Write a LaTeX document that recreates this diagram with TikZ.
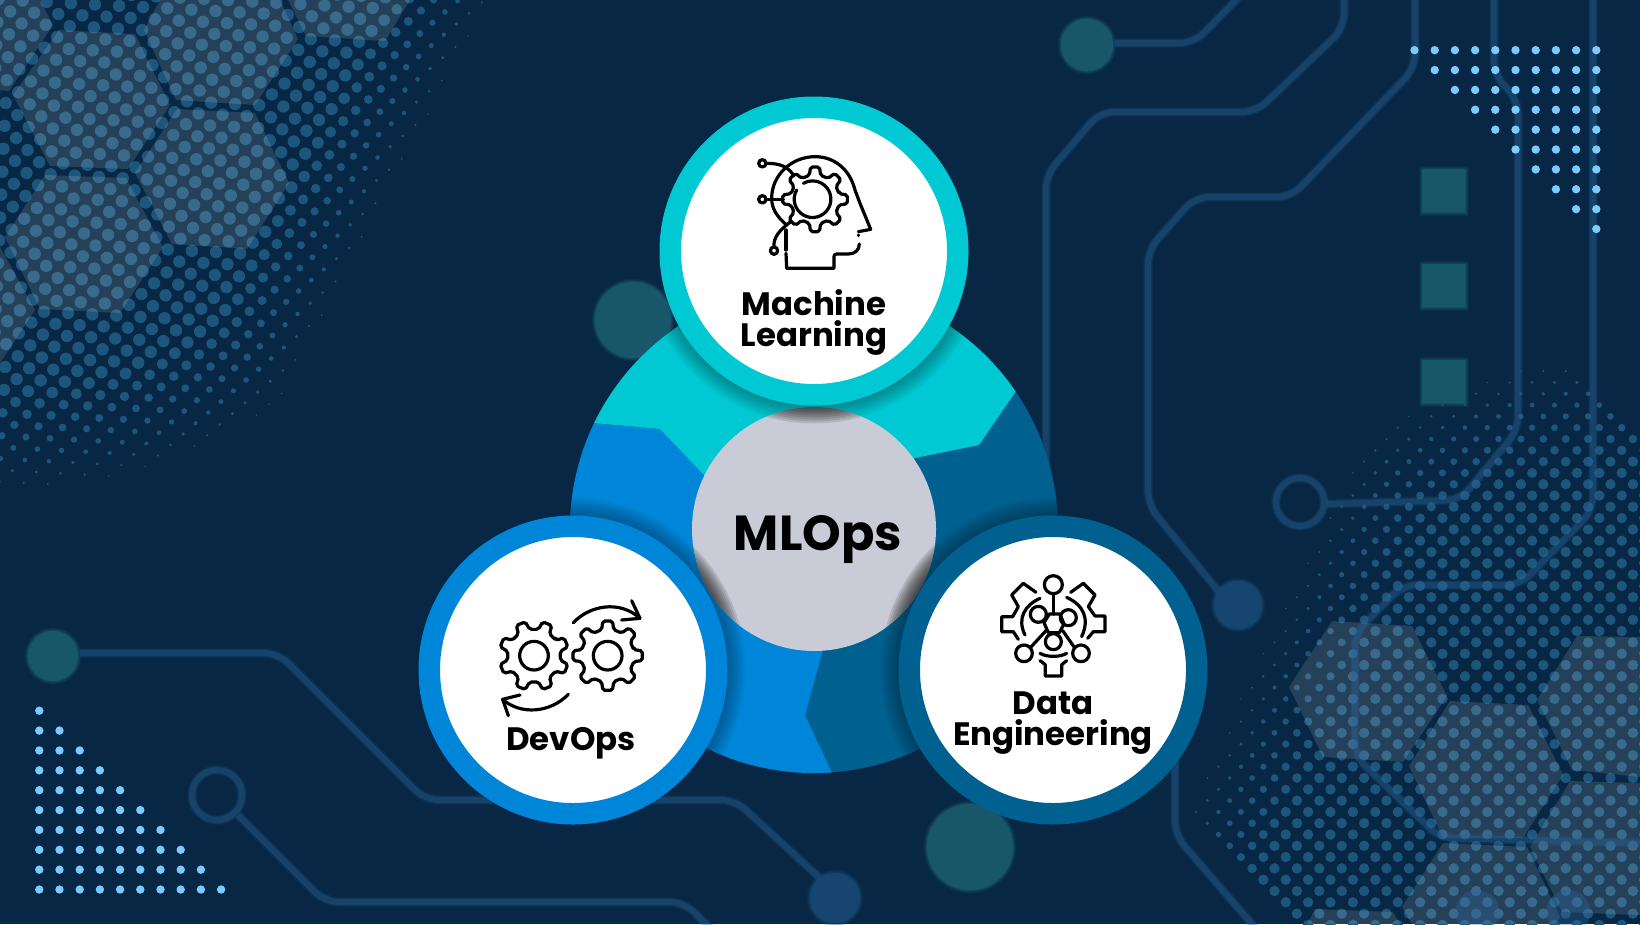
\documentclass[tikz,border=0pt]{standalone}
\usepackage{fontspec}
\setmainfont{Poppins}
\definecolor{fondnuit}{HTML}{072744}
\definecolor{cyanml}{HTML}{00C9D4}
\definecolor{bleudev}{HTML}{0086D9}
\definecolor{bleudata}{HTML}{00608F}
\definecolor{griscentre}{HTML}{C9CCD6}
\definecolor{piste}{HTML}{2E669A}
\definecolor{tramedot}{HTML}{1D567C}
\definecolor{pointclair}{HTML}{7CCBFF}
\definecolor{tacheteal}{HTML}{18566A}
\definecolor{tachebleu}{HTML}{16466F}
\tikzset{
    ringnode/.style={circle, draw=#1, line width=21.5pt, fill=white, minimum size=287.5pt, inner sep=0pt, outer sep=0pt},
    titre/.style={font=\fontsize{32.4}{31}\selectfont\bfseries, align=center, inner sep=0pt, text=black},
    iconline/.style={draw=black, line width=3.2pt, line cap=round, line join=round},
    hexa/.style={fill=white, fill opacity=0.12},
    halfdot/.style={fill=tramedot},
    bluedot/.style={fill=pointclair}
}
% piste floue
\newcommand{\softtrace}[1]{
    \foreach \w/\o in {10/0.1,8/0.15,6/0.27}{
        \draw[piste, line width=\w pt, opacity=\o, rounded corners=14pt] #1;
    }
}
% tache floue : couleur, forme
\newcommand{\softspot}[2]{
    \foreach \w/\o in {7/0.18,5/0.25,3/0.35,1/0.5}{
        \draw[#1, line width=\w pt, opacity=\o] #2;
    }
    \fill[#1] #2;
}
% roue dentee : centre, rayon ext, rayon int, rotation
\newcommand{\gearicon}[4]{
    \draw[iconline, rounded corners=2pt, shift={#1}, rotate=#4] (-13:#3)
        \foreach \a in {0,45,...,315}{ -- (\a-13:#3) -- (\a-8:#2) -- (\a+8:#2) -- (\a+13:#3) } -- cycle;
}
\begin{document}
\begin{tikzpicture}[x=1pt, y=-1pt]
    \useasboundingbox (0,0) rectangle (1640,924);
    \fill[fondnuit] (0,0) rectangle (1640,924);

    % Trame de points, en haut a gauche
    \foreach \j in {-3,...,42}{
        \foreach \i in {-22,...,20}{
            \pgfmathsetmacro{\px}{58.3+24.1*\i+11.5*\j}
            \pgfmathsetmacro{\py}{14+1.3*\i+12.1*\j}
            \pgfmathsetmacro{\tt}{max(veclen(\px,\py)/490,(0.887*\px+0.462*\py)/433)}
            \pgfmathparse{(\tt<1 && \px>-8 && \py>-8) ? 1 : 0}
            \ifdim\pgfmathresult pt=1pt
                \pgfmathsetmacro{\rr}{min(6.2,0.8+(1-\tt)*26)}
                \fill[halfdot] (\px,\py) circle (\rr);
            \fi
        }
    }
    % Trame de points, en bas a droite
    \foreach \j in {-38,...,14}{
        \foreach \i in {-6,...,30}{
            \pgfmathsetmacro{\px}{1285.7+22.4*\i+11.2*\j}
            \pgfmathsetmacro{\py}{766.7+11.3*\j}
            \pgfmathsetmacro{\tt}{max(veclen(\px-1640,\py-840)/485,(0.9*(1640-\px)+0.43*(840-\py))/420)}
            \pgfmathparse{(\tt<1 && \px<1650) ? 1 : 0}
            \ifdim\pgfmathresult pt=1pt
                \pgfmathsetmacro{\rr}{min(5.2,0.8+(1-\tt)*20)}
                \fill[halfdot] (\px,\py) circle (\rr);
            \fi
        }
    }

    % Hexagones
    \fill[hexa] (0,0) -- (40,0) -- (53,25) -- (9,91) -- (0,90) -- cycle;
    \fill[hexa] (59,30) -- (135,34) -- (170,105) -- (128,169) -- (50,166) -- (13,95) -- cycle;
    \fill[hexa] (160,0) -- (280,0) -- (298,39) -- (255,105) -- (176,100) -- (144,30) -- cycle;
    \fill[hexa] (288,0) -- (410,0) -- (385,41) -- (306,36) -- cycle;
    \fill[hexa] (177,109) -- (255,113) -- (289,183) -- (247,249) -- (172,244) -- (135,173) -- cycle;
    \fill[hexa] (45,175) -- (126,178) -- (163,247) -- (120,313) -- (40,309) -- (5,237) -- cycle;
    \fill[hexa] (0,247) -- (35,310) -- (0,363) -- cycle;
    \fill[hexa] (1332,621) -- (1412,626) -- (1447,696) -- (1403,762) -- (1323,757) -- (1289,687) -- cycle;
    \fill[hexa] (1450,701) -- (1528,705) -- (1563,775) -- (1523,838) -- (1443,838) -- (1409,766) -- cycle;
    \fill[hexa] (1577,636) -- (1640,637) -- (1640,777) -- (1572,770) -- (1537,700) -- cycle;
    \fill[hexa] (1570,781) -- (1640,783) -- (1640,915) -- (1562,912) -- (1530,847) -- cycle;
    \fill[hexa] (1443,843) -- (1527,847) -- (1560,917) -- (1555,924) -- (1412,924) -- (1402,907) -- cycle;
    \fill[hexa] (1315,909) -- (1393,912) -- (1400,924) -- (1307,924) -- cycle;

    % Pistes du circuit
    \softtrace{(1115,43) -- (1194,43) -- (1241,-5)}
    \softtrace{(1344,-5) -- (1344,28) -- (1256,112) -- (1100,112) -- (1046,175) -- (1046,480)}
    \softtrace{(1415,-5) -- (1415,68) -- (1291,197) -- (1195,197) -- (1148,250) -- (1148,505) -- (1220,593)}
    \softtrace{(1494,-5) -- (1494,75) -- (1518,100) -- (1518,430) -- (1460,500) -- (1327,504)}
    \softtrace{(1593,-5) -- (1593,510) -- (1520,585) -- (1403,585) -- (1355,633) -- (1355,756) -- (1440,838) -- (1645,843)}
    \softtrace{(1175,750) -- (1175,835) -- (1270,945)}
    \softtrace{(80,653) -- (278,653) -- (425,800) -- (735,800) -- (822,880)}
    \softtrace{(238,815) -- (325,902) -- (684,902) -- (712,930)}
    \foreach \w/\o in {10/0.1,8/0.15,6/0.27}{
        \draw[piste, line width=\w pt, opacity=\o] (1300,502) circle (24);
        \draw[piste, line width=\w pt, opacity=\o] (217,795) circle (25);
    }

    % Taches et carres
    \softspot{tacheteal}{(1087,45) circle (26)}
    \softspot{tacheteal}{(53,656) circle (25)}
    \softspot{tacheteal}{(633,320) circle (38)}
    \softspot{tacheteal}{(970,847) circle (43)}
    \softspot{tachebleu}{(1238,605) circle (24)}
    \softspot{tachebleu}{(835,898) circle (25)}
    \foreach \yy in {169,264,360}{
        \softspot{tacheteal}{(1422,\yy) rectangle (1465,{\yy+43})}
    }
    \fill[piste, opacity=0.35] (1477,912) circle (22);
    \fill[piste, opacity=0.35] (1568,912) circle (22);

    % Points clairs
    \foreach \j in {0,...,9}{
        \foreach \i in {0,...,\j}{
            \fill[bluedot] ({39.3+20.2*\i},{710.7+19.87*\j}) circle (4.2);
            \fill[bluedot] ({1596.3-20.2*\i},{229-19.87*\j}) circle (4.2);
        }
    }

    % Disque decoupe
    \begin{scope}
        \clip (814,529) circle (244);
        \fill[bleudata] (560,280) rectangle (1070,780);
        \fill[bleudev] (500,415) -- (593,423) -- (660,429) -- (704,475) -- (814,529) -- (823,650) -- (805,715) -- (840,790) -- (500,790) -- cycle;
        \fill[cyanml] (500,415) -- (593,423) -- (660,429) -- (704,475) -- (814,529) -- (915,458) -- (979,445) -- (1016,391) -- (1075,305) -- (1075,200) -- (500,200) -- cycle;
        % ombres des anneaux
        \foreach \s in {2,4,...,18}{
            \fill[black, opacity=0.035] (814,251) circle ({154.5+\s});
            \fill[black, opacity=0.035] (573,670) circle ({154.5+\s});
            \fill[black, opacity=0.035] (1053,670) circle ({154.5+\s});
        }
    \end{scope}
    \node[circle, fill=griscentre, minimum size=244pt, inner sep=0pt, outer sep=0pt] (centre) at (814,529) {};
    \begin{scope}
        \clip (814,529) circle (122);
        \foreach \s in {2,4,...,18}{
            \fill[black, opacity=0.11] (814,251) circle ({154.5+\s});
            \fill[black, opacity=0.11] (573,670) circle ({154.5+\s});
            \fill[black, opacity=0.11] (1053,670) circle ({154.5+\s});
        }
    \end{scope}

    % Anneaux
    \node[ringnode=cyanml] (mlring) at (814,251) {};
    \node[ringnode=bleudev] (devring) at (573,670) {};
    \node[ringnode=bleudata] (dataring) at (1053,670) {};

    % Textes
    \node[font=\fontsize{49.2}{49}\selectfont\bfseries, inner sep=0pt, anchor=base] (mlops) at (818,550) {MLOps};
    \node[titre] (mltxt) at (814,322) {Machine\\Learning};
    \node[titre, anchor=base] (devtxt) at (571,750) {DevOps};
    \node[titre] (datatxt) at (1053,723.5) {Data\\Engineering};

    % Icone tete
    \begin{scope}[shift={(640,90)}, scale=1/3]
        \gearicon{(525,328)}{98}{74}{0}
        \draw[iconline] (470,300) arc (210:-120:55);
        \draw[iconline] (440,405) .. controls (410,380) and (395,355) .. (395,325) .. controls (395,255) and (455,200) .. (525,200) .. controls (585,200) and (630,240) .. (645,300) -- (660,340) -- (692,418) -- (655,425);
        \draw[iconline] (655,435) -- (655,437);
        \draw[iconline] (658,462) .. controls (658,480) and (645,492) .. (625,492) -- (590,492) .. controls (584,492) and (582,496) .. (582,500) -- (582,535) -- (440,535) -- (438,490);
        \draw[iconline] (438,480) -- (438,420);
        \draw[iconline] (367,220) circle (11);
        \draw[iconline] (380,220) .. controls (420,220) and (445,230) .. (462,258);
        \draw[iconline] (367,328) circle (11);
        \draw[iconline] (380,328) -- (430,328);
        \draw[iconline] (402,482) circle (11);
        \draw[iconline] (402,470) .. controls (400,440) and (420,420) .. (452,395);
    \end{scope}

    % Icone roues
    \begin{scope}[shift={(420,510)}, scale=1/3]
        \gearicon{(342,437)}{105}{80}{22.5}
        \gearicon{(563,437)}{105}{80}{0}
        \draw[iconline] (342,437) circle (43);
        \draw[iconline] (563,437) circle (43);
        \draw[iconline] (460,338) .. controls (510,285) and (600,270) .. (660,325);
        \draw[iconline] (635,272) -- (660,325) -- (605,330);
        \draw[iconline] (445,553) .. controls (390,610) and (300,615) .. (248,568);
        \draw[iconline] (300,555) -- (248,568) -- (265,617);
    \end{scope}

    % Icone donnees
    \begin{scope}[shift={(900,510)}, scale=1/3]
        \draw[iconline] (460,224) circle (27);
        \draw[iconline] (460,251) -- (460,312);
        \draw[iconline] (415,313) circle (24);
        \draw[iconline] (505,323) circle (24);
        \draw[iconline] (372,430) circle (25);
        \draw[iconline] (543,430) circle (25);
        \draw[iconline] (460,395) circle (24);
        \draw[iconline] (432,338) -- (448,312) -- (480,312) -- (492,342) -- (478,368) -- (445,368) -- cycle;
        \draw[iconline] (392,412) -- (438,362);
        \draw[iconline] (523,412) -- (488,362);
        \draw[iconline] (420,430) .. controls (440,442) and (480,442) .. (500,430);
        \draw[iconline] (420,452) -- (436,464) -- (436,498) -- (485,498) -- (485,464) -- (500,452);
        \draw[iconline] (408,247) -- (370,220) -- (335,255) -- (355,290) -- (338,320) -- (305,320) -- (305,365) -- (340,365) -- (355,388);
        \draw[iconline] (420,265) .. controls (375,285) and (350,325) .. (375,375);
        \draw[iconline] (512,247) -- (550,220) -- (585,255) -- (565,290) -- (585,318) -- (615,318) -- (615,365) -- (580,365) -- (563,385);
        \draw[iconline] (500,262) .. controls (550,285) and (570,325) .. (545,380);
    \end{scope}
\end{tikzpicture}
\end{document}
